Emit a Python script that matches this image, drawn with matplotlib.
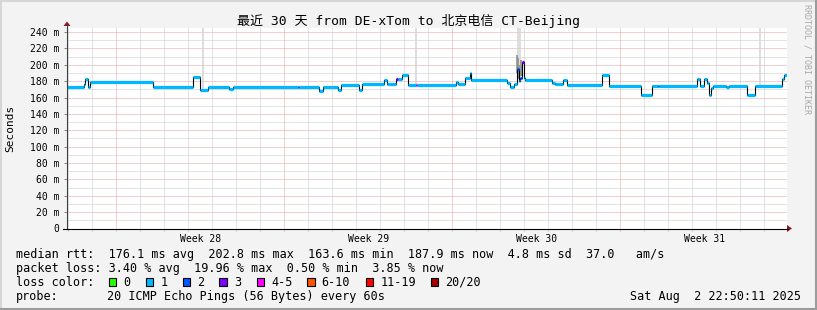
import matplotlib
matplotlib.use('Agg')
import matplotlib.pyplot as plt
from matplotlib.patches import Rectangle, Polygon
from matplotlib.lines import Line2D

W, H = 817, 310

# ---------------- data ----------------
# median rtt segments: start (days since Jul 3 22:50), value (ms), loss bucket index
seg_start = [0.000, 0.688, 0.750, 0.875, 0.979, 3.596, 5.263, 5.529, 5.875, 6.750,
             6.896, 9.625, 9.680, 10.500, 10.667, 11.292, 11.417, 12.167, 12.292, 13.208,
             13.313, 13.708, 13.771, 13.958, 14.208, 14.521, 14.583, 16.196, 16.292, 16.583,
             16.771, 16.813, 18.321, 18.458, 18.625, 18.750, 18.813, 18.875, 18.938, 19.021,
             19.083, 20.196, 20.333, 20.667, 20.813, 22.279, 22.604, 23.917, 24.375, 24.625,
             24.680, 26.250, 26.375, 26.542, 26.667, 26.750, 26.833, 26.896, 27.458, 27.583,
             28.333, 28.667, 29.792, 29.875]
seg_ms = [172.6, 177.0, 183.0, 173.0, 179.2, 172.6, 185.3, 168.9, 172.6, 170.5,
          173.0, 173.0, 173.0, 168.5, 173.0, 169.5, 175.0, 169.0, 176.0, 181.0,
          176.0, 182.0, 182.0, 188.0, 175.7, 175.7, 175.7, 178.8, 176.0, 183.3,
          190.0, 181.2, 177.5, 173.0, 176.0, 194.4, 180.0, 184.0, 202.8, 184.0,
          181.2, 177.5, 176.0, 181.6, 175.0, 187.4, 174.6, 163.5, 174.6, 174.6,
          174.6, 182.0, 174.6, 182.0, 178.0, 163.5, 171.8, 174.6, 172.6, 173.8,
          163.5, 173.8, 182.0, 187.4]
seg_loss = [1, 1, 1, 1, 1, 1, 1, 1, 1, 1,
            1, 2, 1, 1, 1, 1, 1, 1, 1, 1,
            1, 3, 1, 1, 1, 4, 1, 1, 1, 1,
            1, 1, 1, 1, 1, 2, 1, 2, 3, 1,
            1, 1, 1, 1, 1, 1, 1, 1, 1, 2,
            1, 1, 1, 1, 1, 1, 1, 1, 1, 1,
            1, 1, 1, 1]
t_end = 30.0

# smoke (individual ping spread) reaching out of the chart
smoke_day = [5.667, 14.542, 28.861, 18.781, 18.875]
smoke_lo = [168.9, 175.7, 173.8, 194.4, 184.0]
smoke_hi = [260.0, 260.0, 260.0, 260.0, 260.0]
# darker smoke just above the spike
dark_smoke_day = [18.760, 18.800, 18.845, 18.900, 18.960]
dark_smoke_lo = [190.0, 182.0, 182.0, 186.0, 186.0]
dark_smoke_hi = [212.0, 208.0, 200.0, 206.0, 198.0]

loss_labels = ['0', '1', '2', '3', '4-5', '6-10', '11-19', '20/20']
loss_colors = ['#26ff00', '#00b8ff', '#0059ff', '#7e00ff', '#ff00ff', '#ff5500', '#ff0000', '#a10000']

y_major = list(range(0, 241, 20))
y_minor = list(range(10, 240, 20))
y_labels = ['0'] + [f'{v} m' for v in y_major[1:]]
week_labels = ['Week 28', 'Week 29', 'Week 30', 'Week 31']
week_start = [2.049, 9.049, 16.049, 23.049]
day_lines = [0.049 + k for k in range(30)]

title = '最近 30 天 from DE-xTom to 北京电信 CT-Beijing'
row1 = 'median rtt:  176.1 ms avg  202.8 ms max  163.6 ms min  187.9 ms now  4.8 ms sd  37.0   am/s'
row2 = 'packet loss: 3.40 % avg  19.96 % max  0.50 % min  3.85 % now'
probe_text = '20 ICMP Echo Pings (56 Bytes) every 60s'
date_text = 'Sat Aug  2 22:50:11 2025'

# ---------------- figure ----------------
MONO = ['DejaVu Sans Mono', 'Noto Sans CJK SC']
BG = '#f3f3f3'
fig = plt.figure(figsize=(W / 100, H / 100), dpi=100, facecolor=BG)


def fx(x):
    return x / W


def fy(y):
    return 1 - y / H


ax = fig.add_axes([67 / W, (H - 228.5) / H, 720 / W, 200.5 / H])
ax.set_facecolor('white')
ax.set_xlim(0, 30)
ax.set_ylim(0, 244.9)
for s in ax.spines.values():
    s.set_visible(False)

# grid
dot = (0, (1, 1))
ax.hlines(y_minor, 0, 30, colors='#c8c8c8', lw=0.72, linestyles=dot, zorder=1)
ax.hlines(y_major[1:], 0, 30, colors='#e8a2a2', lw=0.72, linestyles=dot, zorder=1)
ax.vlines([d for d in day_lines if all(abs(d - w) > 0.01 for w in week_start)], 0, 244.9,
          colors='#c8c8c8', lw=0.72, linestyles=dot, zorder=1)
ax.vlines(week_start, 0, 244.9, colors='#e8a2a2', lw=0.72, linestyles=dot, zorder=1)

# smoke
ax.vlines(smoke_day, smoke_lo, smoke_hi, colors='#d4d4d4', lw=1.1, zorder=2)
ax.vlines(dark_smoke_day, dark_smoke_lo, dark_smoke_hi, colors='#8a8a8a', lw=1.1, zorder=2)

# median: black step line below, loss coloured bands on top
seg_end = seg_start[1:] + [t_end]
xs, ys = [], []
for a, b, v in zip(seg_start, seg_end, seg_ms):
    xs += [a, b]
    ys += [v, v]
ax.plot(xs, ys, color='black', lw=0.8, zorder=3)
ax.hlines(seg_ms, seg_start, seg_end, colors=[loss_colors[l] for l in seg_loss],
          lw=2.3, capstyle='butt', zorder=4)

# ticks
ax.set_yticks(y_major)
ax.set_yticklabels(y_labels, family=MONO, fontsize=7)
ax.set_yticks(y_minor, minor=True)
ax.set_xticks([w + 3.5 for w in week_start])
ax.set_xticklabels(week_labels, family=MONO, fontsize=7)
ax.set_xticks(day_lines, minor=True)
ax.tick_params(axis='y', which='major', length=2.2, width=0.72, color='#888888', pad=3.3)
ax.tick_params(axis='y', which='minor', length=0)
ax.tick_params(axis='x', which='major', length=0, pad=4.0)
ax.tick_params(axis='x', which='minor', length=1.5, width=0.72, color='#bbbbbb')

# axes lines + arrows (figure pixel coords)
fig.add_artist(Line2D([fx(67), fx(67)], [fy(228.5), fy(25)], color='#404040', lw=0.8))
fig.add_artist(Line2D([fx(63), fx(788)], [fy(228.5), fy(228.5)], color='black', lw=0.8))
fig.add_artist(Polygon([(fx(63.5), fy(26)), (fx(70.5), fy(26)), (fx(67), fy(21.5))],
                       closed=True, color='#8b1a1a', lw=0))
fig.add_artist(Polygon([(fx(787), fy(225)), (fx(787), fy(232)), (fx(792), fy(228.5))],
                       closed=True, color='#8b1a1a', lw=0))

# texts
fig.text(fx(408.5), fy(21.5), title, family=MONO, fontsize=9.4, ha='center', va='center')
fig.text(fx(10.5), fy(128), 'Seconds', family=MONO, fontsize=8, rotation=90, ha='center', va='center')
fig.text(fx(807), fy(4), 'RRDTOOL / TOBI OETIKER', family=MONO, fontsize=6, rotation=270,
         ha='center', va='top', color='#a8a8a8')

LF = 8.5
fig.text(fx(16), fy(254.3), row1, family=MONO, fontsize=LF, ha='left', va='center')
fig.text(fx(16), fy(268.3), row2, family=MONO, fontsize=LF, ha='left', va='center')
fig.text(fx(16), fy(282.3), 'loss color:', family=MONO, fontsize=LF, ha='left', va='center')
box_x = [108.7, 145.7, 182.7, 219.5, 256.7, 307.0, 365.7, 430.7]
for bx, lab, col in zip(box_x, loss_labels, loss_colors):
    fig.add_artist(Rectangle((fx(bx), fy(286.3)), 7.5 / W, 8.5 / H, facecolor=col,
                             edgecolor='black', lw=0.8))
    fig.text(fx(bx + 14.5), fy(282.3), lab, family=MONO, fontsize=LF, ha='left', va='center')
fig.text(fx(16), fy(296.3), 'probe:', family=MONO, fontsize=LF, ha='left', va='center')
fig.text(fx(107.3), fy(296.3), probe_text, family=MONO, fontsize=LF, ha='left', va='center')
fig.text(fx(800.5), fy(296.3), date_text, family=MONO, fontsize=LF, ha='right', va='center')

# 3D frame
fig.add_artist(Line2D([0, 1], [fy(0.8), fy(0.8)], color='#d6d6d6', lw=1.5))
fig.add_artist(Line2D([fx(0.8), fx(0.8)], [0, 1], color='#d6d6d6', lw=1.5))
fig.add_artist(Line2D([0, 1], [fy(309.2), fy(309.2)], color='#9c9c9c', lw=1.5))
fig.add_artist(Line2D([fx(816.2), fx(816.2)], [0, 1], color='#9c9c9c', lw=1.5))

fig.savefig('out.png', dpi=100, facecolor=BG)
